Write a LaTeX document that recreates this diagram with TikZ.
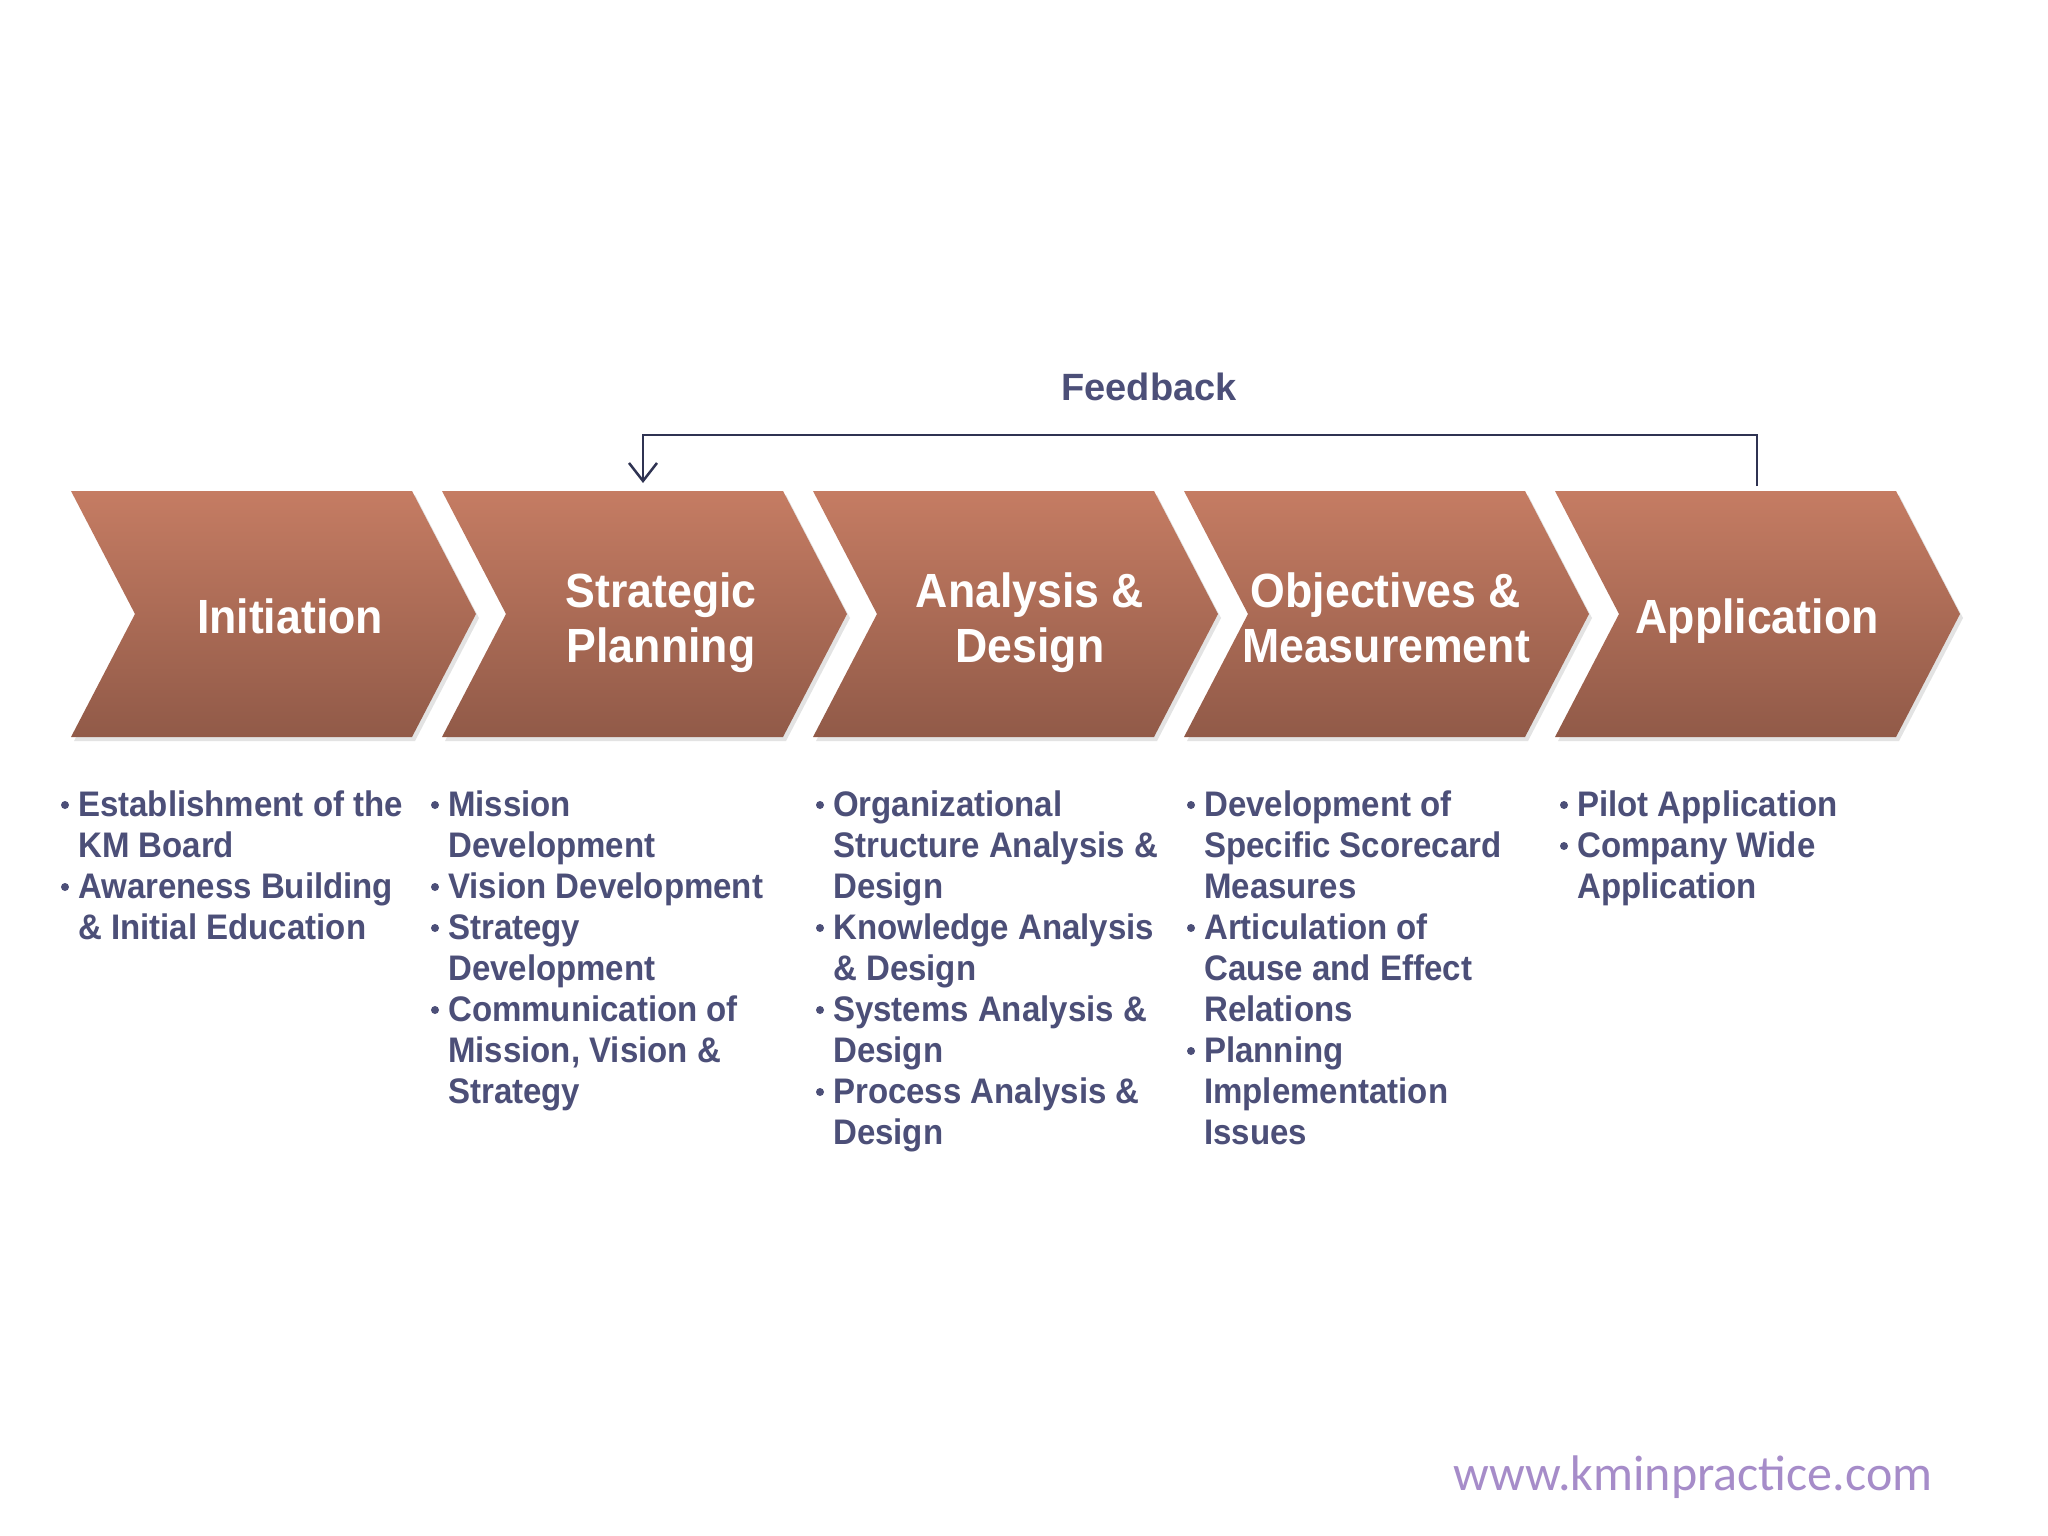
\documentclass[tikz,border=0pt]{standalone}
\usepackage{fontspec}
\setmainfont{Liberation Sans}
\newfontfamily\condfont[FakeStretch=0.93]{Liberation Sans}
\newfontfamily\webfont{Carlito}
\usetikzlibrary{arrows.meta,shadows}
\definecolor{chevtop}{RGB}{197,124,99}
\definecolor{chevbot}{RGB}{145,90,72}
\definecolor{bodytext}{RGB}{76,79,120}
\definecolor{fbcol}{RGB}{47,51,82}
\definecolor{webpurple}{RGB}{166,140,201}
\begin{document}
\begin{tikzpicture}[x=1pt,y=-1pt,
  chev/.style={top color=chevtop,bottom color=chevbot,
    drop shadow={opacity=0.22,shadow xshift=3pt,shadow yshift=-4pt}},
  headtext/.style={anchor=base,text=white,inner sep=0pt,
    font=\condfont\bfseries\fontsize{48}{55}\selectfont},
  itemtext/.style={anchor=base west,text=bodytext,inner sep=0pt,
    font=\condfont\bfseries\fontsize{35.5}{41}\selectfont},
  bulletdot/.style={fill=bodytext},
  fbline/.style={draw=fbcol,line width=2.5pt,
    -{Straight Barb[length=18pt,width=28pt]}},
  fbtext/.style={anchor=base,text=bodytext,inner sep=0pt,
    font=\bfseries\fontsize{38}{44}\selectfont}]
\useasboundingbox (0,0) rectangle (2048,1536);
\fill[white] (0,0) rectangle (2048,1536);

% chevrons
\foreach \x in {71,442,813,1184,1555}{
  \path[chev] (\x,491) -- ++(341,0) -- ++(64,123) -- ++(-64,123)
    -- ++(-341,0) -- ++(64,-123) -- cycle;
}

% headings
\node[headtext] (h1) at (290,633) {Initiation};
\node[headtext] (h2) at (661,607) {\parbox[t]{320pt}{\centering Strategic\\Planning}};
\node[headtext] (h3) at (1030,607) {\parbox[t]{320pt}{\centering Analysis \&\\Design}};
\node[headtext] (h4) at (1386,607) {\parbox[t]{340pt}{\centering Objectives \&\\Measurement}};
\node[headtext] (h5) at (1757,633) {Application};

% feedback
\node[fbtext] (fb) at (1149,400) {Feedback};
\coordinate (fbfrom) at (1757,486);
\coordinate (fbto) at (643,483);
\draw[fbline] (fbfrom) -- ++(0,-51) -| (fbto);

% bullet items
\newcommand\myitem[4]{%
  \node[itemtext] (#1) at (#2,#3) {\parbox[t]{400pt}{#4}};
  \fill[bulletdot] (#2,#3) ++(-13,-11) circle (4);
}
% column 1
\myitem{a1}{78}{816}{Establishment of the\\KM Board}
\myitem{a2}{78}{898}{Awareness Building\\\& Initial Education}
% column 2
\myitem{b1}{448}{816}{Mission\\Development}
\myitem{b2}{448}{898}{Vision Development}
\myitem{b3}{448}{939}{Strategy\\Development}
\myitem{b4}{448}{1021}{Communication of\\Mission, Vision \&\\Strategy}
% column 3
\myitem{c1}{833}{816}{Organizational\\Structure Analysis \&\\Design}
\myitem{c2}{833}{939}{Knowledge Analysis\\\& Design}
\myitem{c3}{833}{1021}{Systems Analysis \&\\Design}
\myitem{c4}{833}{1103}{Process Analysis \&\\Design}
% column 4
\myitem{d1}{1204}{816}{Development of\\Specific Scorecard\\Measures}
\myitem{d2}{1204}{939}{Articulation of\\Cause and Effect\\Relations}
\myitem{d3}{1204}{1062}{Planning\\Implementation\\Issues}
% column 5
\myitem{e1}{1577}{816}{Pilot Application}
\myitem{e2}{1577}{857}{Company Wide\\Application}

% website
\node[anchor=base,text=webpurple,inner sep=0pt,
  font=\webfont\fontsize{50}{60}\selectfont] (web) at (1693,1490) {www.kminpractice.com};
\end{tikzpicture}
\end{document}
